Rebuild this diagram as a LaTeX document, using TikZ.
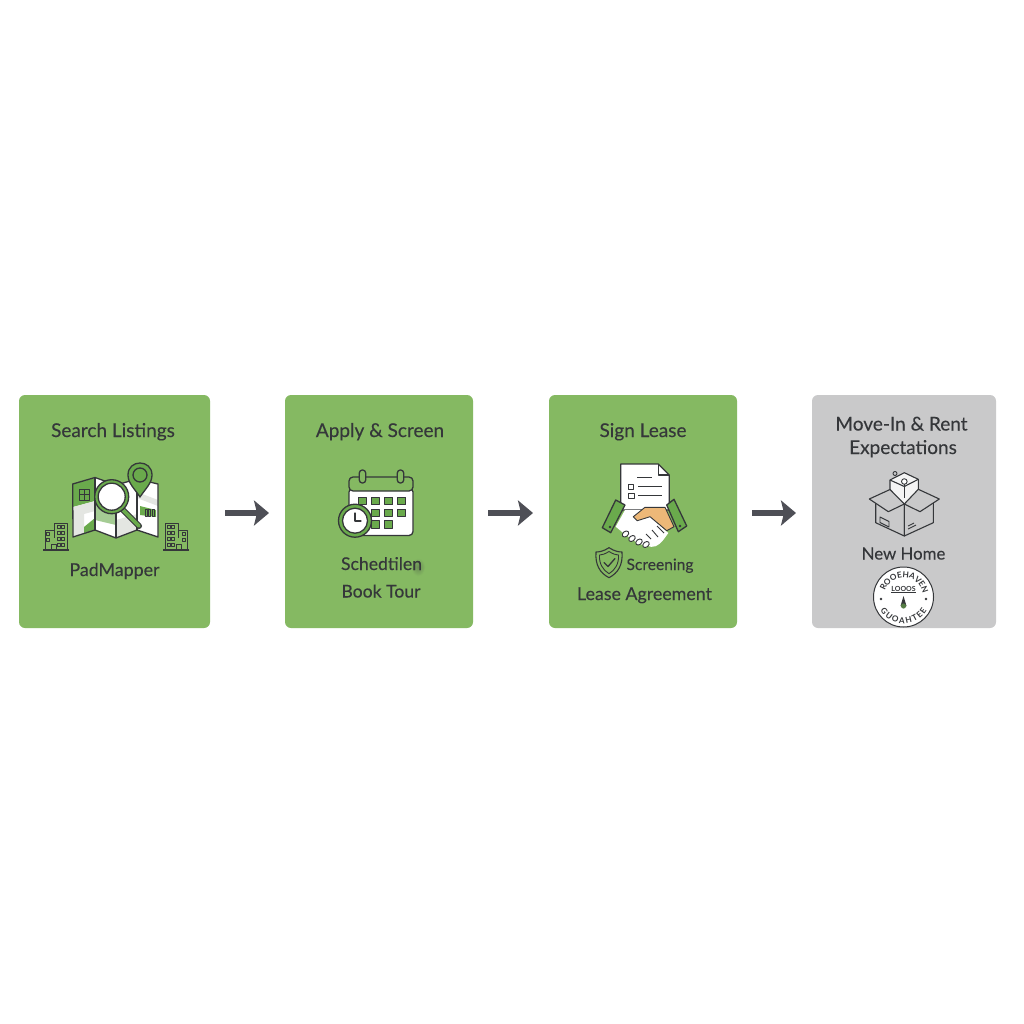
\documentclass[tikz,border=0pt]{standalone}
\usepackage{fontspec}
\usetikzlibrary{arrows.meta, positioning, calc, decorations.text}
\setmainfont{Lato}
\newfontfamily\cardfont[FakeBold=0.18]{Lato}
\definecolor{cardgreen}{HTML}{85B962}
\definecolor{cardgray}{HTML}{C9C9CA}
\definecolor{deepgreen}{HTML}{6AAA4C}
\definecolor{inkdark}{HTML}{35373A}
\definecolor{arrowgray}{HTML}{4E4F56}
\definecolor{handorange}{HTML}{EDB878}
\definecolor{roadgray}{HTML}{E4E6E2}

\begin{document}
\begin{tikzpicture}[
	x=1pt, y=-1pt,
	>=Stealth,
	card/.style={rectangle, rounded corners=6pt, minimum height=233pt, inner sep=0pt, outer sep=0pt},
	title/.style={anchor=base, text=inkdark, font=\cardfont\fontsize{19}{23}\selectfont},
	caption/.style={anchor=base, text=inkdark, font=\cardfont\fontsize{18}{22}\selectfont},
	flow/.style={-{Stealth[length=15pt, width=25pt, inset=3pt]}, line width=5.5pt, arrowgray, shorten >=16pt, shorten <=15pt},
	icon/.style={draw=inkdark, line width=1.3pt, line join=round},
	thin icon/.style={draw=inkdark, line width=0.9pt, line join=round},
	building/.pic={
		\draw[icon] (-13,0) -- (13,0);
		\draw[thin icon, line width=1pt] (-11,0) -- (-11,-20) -- (-2,-20) -- (-2,-27) -- (11,-27) -- (11,0);
		\draw[thin icon] (-2,-20) -- (-2,-12);
		\draw[thin icon] (-5,0) -- (-5,-6) -- (0,-6) -- (0,0);
		\foreach \wx/\wy in {-8/-16, -8/-10, 3/-23, 7/-23, 3/-17, 7/-17, 3/-11, 7/-11, 3/-5, 7/-5}
			\draw[thin icon, line width=0.7pt] (\wx-1.2,\wy-1.2) rectangle (\wx+1.2,\wy+1.2);
	}
	]
	\useasboundingbox (0,0) rectangle (1024,1024);
	\fill[white] (0,0) rectangle (1024,1024);

	% cards
	\node[card, fill=cardgreen, anchor=north west, minimum width=191pt] (search) at (19,395) {};
	\node[card, fill=cardgreen, minimum width=188pt, right=75pt of search] (apply) {};
	\node[card, fill=cardgreen, minimum width=188pt, right=76pt of apply] (lease) {};
	\node[card, fill=cardgray, minimum width=184pt, right=75pt of lease] (movein) {};

	% arrows between cards
	\draw[flow] ([yshift=-1.5pt]search.east) -- ([yshift=-1.5pt]apply.west);
	\draw[flow] ([yshift=-1.5pt]apply.east) -- ([yshift=-1.5pt]lease.west);
	\draw[flow] ([yshift=-1.5pt]lease.east) -- ([yshift=-1.5pt]movein.west);

	% smudge on the schedule line
	\shade[inner color=inkdark!35!cardgreen, outer color=cardgreen] (418,567) ellipse (7pt and 9pt);

	% texts
	\node[title] (searchtitle) at (113,437) {Search Listings};
	\node[caption, font=\cardfont\fontsize{17.8}{22}\selectfont] (padmapper) at (114.5,576) {PadMapper};
	\node[title] (applytitle) at (380,437) {Apply \& Screen};
	\node[caption, font=\cardfont\fontsize{17.6}{22}\selectfont] (schedule) at (381.5,570) {Schedtilen};
	\node[caption, font=\cardfont\fontsize{17.6}{22}\selectfont] (booktour) at (381,597.5) {Book Tour};
	\node[title] (leasetitle) at (643,437) {Sign Lease};
	\node[caption, font=\cardfont\fontsize{15.6}{20}\selectfont] (screening) at (660,570) {Screening};
	\node[title, font=\cardfont\fontsize{17.8}{22}\selectfont] (agreement) at (644.5,600) {Lease Agreement};
	\node[title] (moveintitle) at (901.5,430.5) {Move-In \& Rent};
	\node[title] (expectations) at (903,454) {Expectations};
	\node[caption, font=\cardfont\fontsize{16.8}{22}\selectfont] (newhome) at (903.5,559.5) {New Home};

	% --- map icon ---
	\fill[white] (72.7,484) -- (95,477.5) -- (116,485) -- (137,479) -- (158,484) -- (158,537) -- (137,530) -- (116,538) -- (95,530) -- (73,537) -- cycle;
	\fill[deepgreen] (73,484) -- (95,478) -- (95,501) -- (73,507) -- cycle;
	\fill[roadgray] (73,507) -- (95,501) -- (95,511) -- (84,514) -- (84,534) -- (73,537) -- cycle;
	\fill[deepgreen!60!white] (95,503) -- (116,510) -- (116,525) -- (95,520) -- cycle;
	\fill[deepgreen] (84,527) -- (95,518) -- (95,530) -- (84,533) -- cycle;
	\fill[roadgray] (116,520) -- (137,514) -- (137,530) -- (116,538) -- cycle;
	\fill[roadgray] (137,492) -- (158,500) -- (158,506) -- (137,498) -- cycle;
	\fill[deepgreen] (140,506) -- (156,510) -- (156,517) -- (140,515) -- cycle;
	\draw[icon] (72.7,484) -- (95,477.5) -- (116,485) -- (137,479) -- (158,484) -- (158,537) -- (137,530) -- (116,538) -- (95,530) -- (73,537) -- cycle;
	\draw[icon] (95,477.5) -- (95,530) (116,485) -- (116,538) (137,479) -- (137,530);
	\draw[thin icon] (79,489) rectangle (89,500) (84,489) -- (84,500) (79,494.5) -- (89,494.5);
	\foreach \bx in {145,148.5,152}
		\draw[thin icon] (\bx,509) rectangle (\bx+2.2,516);
	% pin
	\draw[icon, fill=deepgreen] (140,497) .. controls (134,488) and (128,483) .. (128,475) .. controls (128,459) and (152,459) .. (152,475) .. controls (152,483) and (146,488) .. (140,497) -- cycle;
	\draw[icon] (140,475) circle (7pt);
	% magnifier
	\draw[inkdark, line width=6pt, line cap=round] (123,510) -- (139,526);
	\draw[deepgreen, line width=3.8pt, line cap=round] (123,510) -- (139,526);
	\draw[icon, fill=deepgreen] (111.7,496.7) circle (17pt);
	\draw[icon, fill=white] (111.7,496.7) circle (13.5pt);
	% buildings
	\pic at (56,550) {building};
	\pic[xscale=-1] at (176,550) {building};

	% --- calendar icon ---
	\draw[icon, fill=white, rounded corners=4pt] (349,488) rectangle (413,535.5);
	\draw[icon, fill=cardgreen, rounded corners=4pt] (349,491) -- (349,477) -- (413,477) -- (413,491) -- cycle;
	\foreach \rx in {362.5,400.5}
		\draw[icon, fill=cardgreen, rounded corners=3pt] (\rx-3.2,470) rectangle (\rx+3.2,483);
	\foreach \gx in {362,375,388.5,401.5}
		\foreach \gy in {501,512.7}
			\draw[thin icon, fill=deepgreen] (\gx-4,\gy-3.7) rectangle (\gx+4,\gy+3.7);
	\foreach \gx in {375,388.5}
		\draw[thin icon, fill=deepgreen] (\gx-4,524.5-3.7) rectangle (\gx+4,524.5+3.7);
	% clock
	\draw[icon, fill=deepgreen] (355,520.7) circle (16.5pt);
	\draw[icon, fill=white] (355,520.7) circle (12.5pt);
	\draw[icon, line cap=round] (355,513) -- (355,521) -- (361,521);

	% --- handshake icon ---
	\draw[icon, fill=white] (620.7,464) -- (658.3,464) -- (669.3,475) -- (669.3,510) -- (620.7,510) -- cycle;
	\draw[icon] (658.3,464) -- (658.3,475) -- (669.3,475);
	\draw[thin icon] (637,477) -- (652,477) (638,486.5) -- (662,486.5) (638,495.5) -- (662,495.5);
	\draw[thin icon] (628,484) rectangle (633,489) (628,493) rectangle (634,498);
	\fill[white] (625,510) -- (643,510) -- (668.3,533) -- (664,539) .. controls (658,547) and (652,548) .. (648,546) .. controls (640,546) and (630,538) .. (623.3,533) -- (615.7,526.7) -- cycle;
	\foreach \fx/\fy in {625.5/534, 632/538.5, 639/542, 646/544.5}
		\draw[thin icon, fill=white, rotate around={40:(\fx,\fy)}] (\fx,\fy) ellipse (3.6pt and 2.6pt);
	\draw[thin icon] (651,539) -- (646,534) (658,537) -- (652,530) (664,533) -- (657,526);
	\draw[thin icon, fill=handorange] (633.3,516.7) -- (645,507.3) -- (665,507.3) -- (674,526.7) -- (666.7,530.7) -- (650,516.7) -- (637.3,520.7) -- cycle;
	\draw[icon, fill=deepgreen] (615.7,500) -- (625,505) -- (610.7,532.7) -- (602.3,527.7) -- cycle;
	\draw[icon, fill=deepgreen] (674,499.3) -- (686.7,526) -- (678.3,531.7) -- (666.7,505) -- cycle;
	\fill[inkdark] (610,527) circle (1.3pt) (680,526) circle (1.3pt);
	% shield
	\draw[icon, line width=1.1pt] (609,547.7) .. controls (603,551.5) and (599,552) .. (596,552) .. controls (595,565) and (600,573) .. (609,577.7) .. controls (618,573) and (623,565) .. (622,552) .. controls (619,552) and (615,551.5) .. (609,547.7) -- cycle;
	\draw[thin icon] (609,551.5) .. controls (605,554) and (602,555) .. (599.5,555) .. controls (599,564) and (603,570) .. (609,573.7) .. controls (615,570) and (619,564) .. (618.5,555) .. controls (616,555) and (613,554) .. (609,551.5) -- cycle;
	\draw[icon, line cap=round] (604,562.5) -- (608,566.5) -- (615,558.5);

	% --- moving box icon ---
	\draw[icon, line width=1.1pt] (890,489.5) -- (904.3,483) -- (918.3,489.3);
	\draw[icon, line width=1.1pt, fill=white!80!cardgray] (890,480) -- (904.3,472.7) -- (918.3,479.3) -- (918.3,497) -- (904.3,504) -- (890,496) -- cycle;
	\draw[icon, line width=1.1pt] (890,480) -- (904.3,486.5) -- (918.3,479.3);
	\draw[thin icon] (895,473.5) circle (2pt);
	\draw[thin icon, fill=white] (904.3,481.5) circle (2.8pt);
	\draw[icon, line width=1.1pt] (904.3,484) -- (904.3,498);
	\draw[icon, line width=1.1pt, fill=cardgray] (875.7,503) -- (904.3,504) -- (904.3,536) -- (875.7,522.7) -- cycle;
	\draw[icon, line width=1.1pt, fill=cardgray] (933.3,503) -- (904.3,504) -- (904.3,536) -- (933.3,522.7) -- cycle;
	\draw[icon, line width=1.1pt, fill=cardgray] (869.3,499) -- (890,489.5) -- (904.3,504) -- (888.3,511.7) -- cycle;
	\draw[icon, line width=1.1pt, fill=cardgray] (939.3,499) -- (918.3,489.3) -- (904.3,504) -- (920,511.7) -- cycle;
	\draw[thin icon] (880,517) -- (889,521.5) -- (889,527) -- (880,522.5) -- cycle;
	\draw[thin icon] (908,529) -- (916,525) (908,526) -- (914,523);

	% --- seal ---
	\begin{scope}[shift={(903.5,597)}, y=1pt]
		\draw[inkdark, line width=1pt, fill=white] (0,0) coordinate (sealcenter) circle (30pt);
		\path[decorate, decoration={text along path, text align=fit to path, text={|\fontsize{8.2}{9}\selectfont\bfseries\color{inkdark}|ROOEHAVEN}}] (162:19.5) arc (162:18:19.5);
		\path[decorate, decoration={text along path, text align=fit to path, text={|\fontsize{8.2}{9}\selectfont\bfseries\color{inkdark}|GUOAHTEE}}] (210:26.8) arc (210:330:26.8);
		\node[inner sep=0.6pt, text=inkdark, font=\fontsize{7}{8}\selectfont\bfseries] (sealmark) at (0,7.5) {\underline{LOOOS}};
		\fill[inkdark] (-22.5,-2) circle (1.3pt) (22.5,-2) circle (1.3pt);
		\fill[inkdark] (0,1) -- (3,-9) -- (-3,-9) -- cycle;
		\fill[deepgreen!60!inkdark] (0,-9) circle (2.6pt);
	\end{scope}
\end{tikzpicture}
\end{document}
